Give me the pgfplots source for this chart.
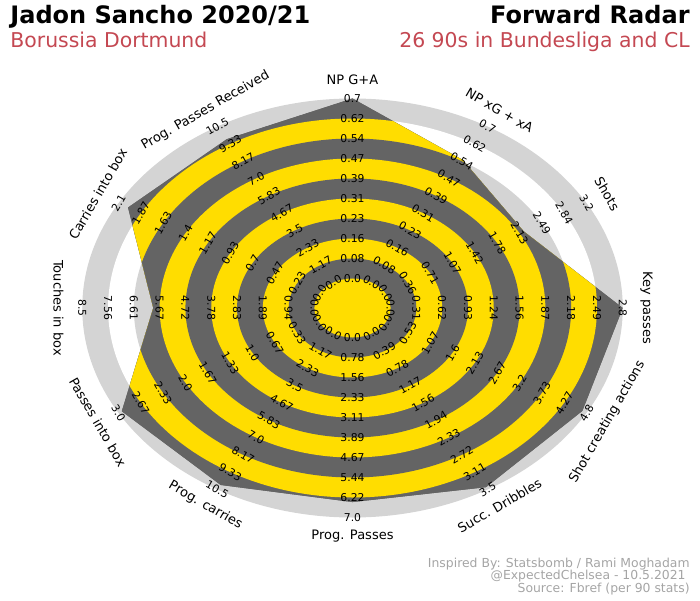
\documentclass[border=0pt]{standalone}
\usepackage{pgfplots}
\pgfplotsset{compat=1.18}
\usepackage{pgfplotstable}
\usepackage{fontspec}
\setmainfont{DejaVu Sans}
\definecolor{ryellow}{RGB}{255,221,0}
\definecolor{rdgray}{RGB}{100,100,100}
\definecolor{rlgray}{RGB}{212,212,212}
\definecolor{rred}{RGB}{196,72,82}
\definecolor{rfoot}{RGB}{165,165,165}

% angle, value (per 90), axis maximum
\pgfplotstableread{
ang val max
90 0.70 0.7
60 0.55 0.7
30 2.20 3.2
0 2.80 2.8
-30 4.70 4.8
-60 3.45 3.5
-90 6.40 7.0
-120 10.20 10.5
-150 2.95 3.0
180 5.90 8.5
150 2.00 2.1
120 9.65 10.5
90 0.70 0.7
}\radardata

\newcommand\ring[2]{\fill[#1] (axis cs:0,0) ellipse[x radius={0.645pt*#2}, y radius={0.5pt*#2}];}
\newcommand\pring[2]{\pgfsetfillcolor{#1}\pgfpathellipse{\pgfplotspointaxisxy{0}{0}}{\pgfpoint{0.645pt*#2}{0pt}}{\pgfpoint{0pt}{0.5pt*#2}}\pgfusepath{fill}}
\newcommand\numfont{\fontsize{5.4}{6}\selectfont}
\newcommand\namefont{\fontsize{6.5}{7.5}\selectfont}
\newcommand\axlab[4]{%
  \foreach \l [count=\i from 0] in {#4} {
    \pgfmathsetmacro\rr{29.5+20*\i}
    \node[rotate=#2, font=\numfont, inner sep=0pt] at ({352.5+1.29*\rr*cos(#1)}, {292+\rr*sin(#1)}) {\l};
  }
  \node[rotate=#2, font=\namefont, inner sep=0pt] at ({352.5+1.29*228*cos(#1)}, {292+228*sin(#1)}) {#3};
}

\begin{document}
\begin{tikzpicture}[x=0.5pt,y=0.5pt]
\path[use as bounding box] (0,0) rectangle (700,600);
\begin{axis}[x=0.645pt, y=0.5pt, hide axis, anchor=center, at={(176.25pt,146pt)},
  xmin=-240, xmax=240, ymin=-240, ymax=240, clip=false]
\ring{rlgray}{209.5}\ring{white}{189.5}\ring{rlgray}{169.5}\ring{white}{149.5}\ring{rlgray}{129.5}
\ring{white}{109.5}\ring{rlgray}{89.5}\ring{white}{69.5}\ring{rlgray}{49.5}\ring{white}{29.5}
\addplot[draw=none, fill=rdgray, path picture={%
  \pring{rdgray}{209.5}\pring{ryellow}{189.5}\pring{rdgray}{169.5}\pring{ryellow}{149.5}\pring{rdgray}{129.5}%
  \pring{ryellow}{109.5}\pring{rdgray}{89.5}\pring{ryellow}{69.5}\pring{rdgray}{49.5}\pring{ryellow}{29.5}%
}] table[x expr={(29.5+180*\thisrow{val}/\thisrow{max})*cos(\thisrow{ang})},
         y expr={(29.5+180*\thisrow{val}/\thisrow{max})*sin(\thisrow{ang})}] {\radardata};
\end{axis}

\axlab{90}{0}{NP G+A}{0.0,0.08,0.16,0.23,0.31,0.39,0.47,0.54,0.62,0.7}
\axlab{60}{-30}{NP xG + xA}{0.0,0.08,0.16,0.23,0.31,0.39,0.47,0.54,0.62,0.7}
\axlab{30}{-60}{Shots}{0.0,0.36,0.71,1.07,1.42,1.78,2.13,2.49,2.84,3.2}
\axlab{0}{-90}{Key passes}{0.0,0.31,0.62,0.93,1.24,1.56,1.87,2.18,2.49,2.8}
\axlab{-30}{60}{Shot creating actions}{0.0,0.53,1.07,1.6,2.13,2.67,3.2,3.73,4.27,4.8}
\axlab{-60}{30}{Succ. Dribbles}{0.0,0.39,0.78,1.17,1.56,1.94,2.33,2.72,3.11,3.5}
\axlab{-90}{0}{Prog. Passes}{0.0,0.78,1.56,2.33,3.11,3.89,4.67,5.44,6.22,7.0}
\axlab{-120}{-30}{Prog. carries}{0.0,1.17,2.33,3.5,4.67,5.83,7.0,8.17,9.33,10.5}
\axlab{-150}{-60}{Passes into box}{0.0,0.33,0.67,1.0,1.33,1.67,2.0,2.33,2.67,3.0}
\axlab{180}{-90}{Touches in box}{0.0,0.94,1.89,2.83,3.78,4.72,5.67,6.61,7.56,8.5}
\axlab{150}{60}{Carries into box}{0.0,0.23,0.47,0.7,0.93,1.17,1.4,1.63,1.87,2.1}
\axlab{120}{30}{Prog. Passes Received}{0.0,1.17,2.33,3.5,4.67,5.83,7.0,8.17,9.33,10.5}

\node[anchor=base west, inner sep=0pt, font=\fontsize{12}{14}\selectfont\bfseries] at (10,576) {Jadon Sancho 2020/21};
\node[anchor=base west, inner sep=0pt, font=\fontsize{10.2}{12}\selectfont, text=rred] at (10,552.5) {Borussia Dortmund};
\node[anchor=base east, inner sep=0pt, font=\fontsize{12}{14}\selectfont\bfseries] at (690,576) {Forward Radar};
\node[anchor=base east, inner sep=0pt, font=\fontsize{10.2}{12}\selectfont, text=rred] at (690,552.5) {26 90s in Bundesliga and CL};

\node[anchor=base east, inner sep=0pt, font=\fontsize{6.2}{7}\selectfont, text=rfoot] at (690,33) {Inspired By: Statsbomb / Rami Moghadam};
\node[anchor=base east, inner sep=0pt, font=\fontsize{6.2}{7}\selectfont, text=rfoot] at (686,20.5) {@ExpectedChelsea - 10.5.2021};
\node[anchor=base east, inner sep=0pt, font=\fontsize{6.2}{7}\selectfont, text=rfoot] at (690,8) {Source: Fbref (per 90 stats)};
\end{tikzpicture}
\end{document}
